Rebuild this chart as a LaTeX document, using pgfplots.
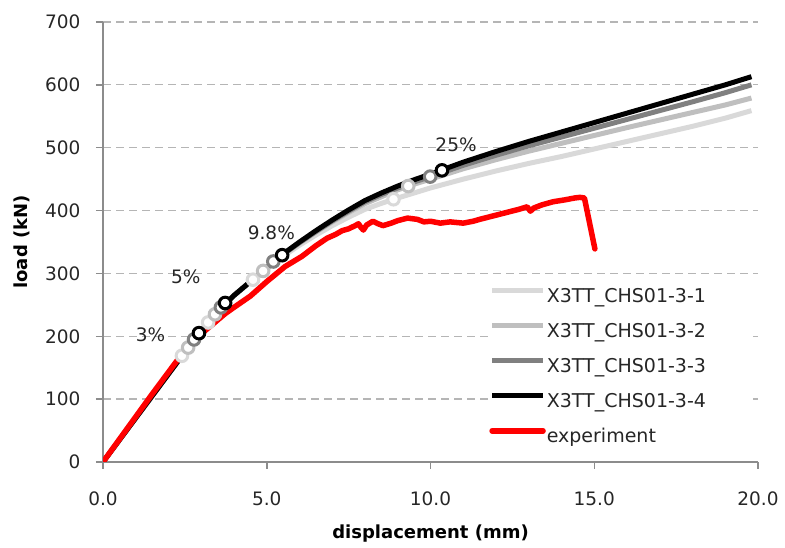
\documentclass[border=0pt]{standalone}
\usepackage{pgfplots}
\pgfplotsset{compat=1.18}
\usepackage{fontspec}
\setmainfont{DejaVu Sans}
\definecolor{sA}{HTML}{D9D9D9}
\definecolor{sB}{HTML}{BFBFBF}
\definecolor{sC}{HTML}{808080}
\definecolor{axgrey}{HTML}{8C8C8C}
\definecolor{gridgrey}{HTML}{B5B5B5}
\definecolor{txt}{HTML}{262626}
\pgfplotstableread{
x s1 s2 s3 s4
0 0 0 0 0
1 70 70 70 70
2 140 140 140 140
2.5 175 175 175 175
3 208 208 208 208
3.5 240 240 240 240
4 265 265 265 265
4.5 286.5 287 287 287
5 307 308.5 309 309
5.5 327.5 330 330.5 331
6 345 348.5 349 350
6.5 361 366 366.5 368
7 376 382 383.5 385
7.5 389.5 397 399 401
8 402 411 414 416
8.5 411.5 422 425.5 428
9 420 433 436 439
9.5 428 442 445.5 449
10 436 450 454 458
11 450 466.5 472 477
12 463 481 488 494
13 475 494.5 503 510
14 486 507 517 525
15 498 519.5 531 540
16 510 532 545 555
17 522 544 559 570
18 534 556 573 585
19 547 568 587.5 600
19.8 559 579 600 613
}\sims
\begin{document}
\begin{tikzpicture}
\path (0,0) rectangle (785pt,548pt);
\begin{axis}[
 at={(103pt,86pt)}, anchor=south west,
 width=655pt, height=440pt, scale only axis,
 xmin=0, xmax=20, ymin=0, ymax=700,
 xtick={0,5,10,15,20}, ytick={0,100,...,700},
 axis x line*=bottom, axis y line*=left,
 axis line style={draw=axgrey, line width=1.5pt},
 tick style={draw=axgrey, line width=1.5pt},
 tick align=outside, major tick length=7pt,
 ymajorgrids, grid style={draw=gridgrey, line width=1.3pt, dash pattern=on 8pt off 5pt},
 /pgf/number format/assume math mode=true,
 x tick label style={/pgf/number format/fixed, /pgf/number format/fixed zerofill, /pgf/number format/precision=1, yshift=-19pt},
 y tick label style={xshift=-12pt},
 tick label style={font=\fontsize{18.5}{22}\selectfont, text=txt},
 xlabel={\bfseries displacement (mm)},
 ylabel={\bfseries load (kN)},
 label style={font=\fontsize{18}{22}\selectfont, text=black},
 xlabel style={at={(axis description cs:0.5,-0.163)}, anchor=center},
 ylabel style={at={(axis description cs:-0.1237,0.5)}, anchor=center},
 legend style={at={(axis cs:11.79,277)}, anchor=north west, draw=none, fill=none, inner sep=0pt,
   font=\fontsize{19}{22}\selectfont, text=txt, row sep=17pt, column sep=1pt,
   nodes={inner sep=0pt, text height=14pt, text depth=4pt}},
 legend cell align=left,
 legend image code/.code={\draw[#1] (0pt,6.5pt) -- (51pt,6.5pt);},
]
\fill[white] (axis cs:11.76,5) rectangle (axis cs:19.8,289);
\addplot[sA, line width=5pt, line join=round] table[x=x,y=s1]{\sims};
\addlegendentry{X3TT\_CHS01-3-1}
\addplot[forget plot, only marks, mark=*, mark size=5.8pt, mark options={fill=white, draw=sA, line width=3pt}] coordinates {(2.41,169) (3.21,222) (4.58,290) (8.87,418)};
\addplot[sB, line width=5pt, line join=round] table[x=x,y=s2]{\sims};
\addlegendentry{X3TT\_CHS01-3-2}
\addplot[forget plot, only marks, mark=*, mark size=5.8pt, mark options={fill=white, draw=sB, line width=3pt}] coordinates {(2.6,182) (3.42,235) (4.89,304) (9.32,439)};
\addplot[sC, line width=5pt, line join=round] table[x=x,y=s3]{\sims};
\addlegendentry{X3TT\_CHS01-3-3}
\addplot[forget plot, only marks, mark=*, mark size=5.8pt, mark options={fill=white, draw=sC, line width=3pt}] coordinates {(2.78,195) (3.6,246) (5.2,319) (9.99,454)};
\addplot[black, line width=5pt, line join=round] table[x=x,y=s4]{\sims};
\addlegendentry{X3TT\_CHS01-3-4}
\addplot[forget plot, only marks, mark=*, mark size=5.8pt, mark options={fill=white, draw=black, line width=3pt}] coordinates {(2.93,205) (3.73,253) (5.47,329) (10.35,464)};
\addplot[red, line width=5.5pt, line join=round, line cap=round] coordinates {
(0,0) (0.5,36) (1,72) (1.5,108) (2,143) (2.3,164) (2.6,183) (3,204) (3.3,217) (3.73,236) (4,246) (4.5,264) (5,287) (5.56,311) (6.07,327) (6.5,344) (6.84,356) (7.1,362) (7.3,368) (7.5,371) (7.7,376) (7.8,379) (7.88,373) (7.95,369) (8.05,377) (8.24,383) (8.4,379) (8.55,376) (8.8,380) (9.0,384) (9.3,388) (9.6,386) (9.8,382) (10.0,383) (10.3,380) (10.6,382) (11.0,380) (11.3,383) (11.5,386) (11.8,390) (12.1,394) (12.4,398) (12.7,402) (12.95,406) (13.05,399) (13.15,404) (13.4,409) (13.74,414) (14.1,417) (14.4,420) (14.56,421) (14.7,420) (15.02,339)};
\addlegendentry{experiment}
\node[font=\fontsize{18.5}{22}\selectfont, text=txt] at (axis cs:1.45,202) {3\%};
\node[font=\fontsize{18.5}{22}\selectfont, text=txt] at (axis cs:2.53,295) {5\%};
\node[font=\fontsize{18.5}{22}\selectfont, text=txt] at (axis cs:5.14,365) {9.8\%};
\node[font=\fontsize{18.5}{22}\selectfont, text=txt] at (axis cs:10.78,504) {25\%};
\end{axis}
\end{tikzpicture}
\end{document}
